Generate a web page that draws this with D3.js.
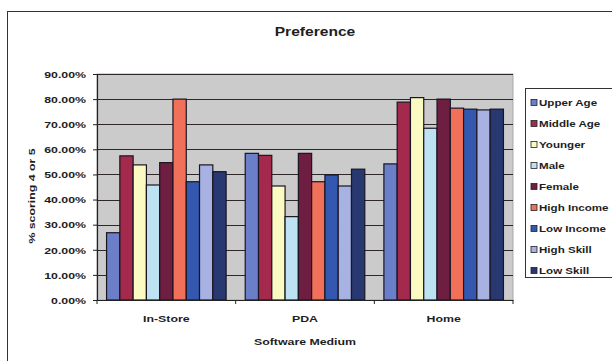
<!DOCTYPE html>
<html>
<head>
<meta charset="utf-8">
<script src="https://cdn.jsdelivr.net/npm/d3@7"></script>
<style>
  html, body { margin: 0; padding: 0; background: #fff; }
  svg { display: block; font-family: "Liberation Sans", Arial, sans-serif; }
</style>
</head>
<body>
<svg id="chart" width="612" height="361"></svg>
<script>
// Software medium categories and respondent groups
const categories = ["In-Store", "PDA", "Home"];
const seriesNames = ["Upper Age", "Middle Age", "Younger", "Male", "Female",
                     "High Income", "Low Income", "High Skill", "Low Skill"];
const seriesColors = ["#6b7fc8", "#a32a4c", "#fafac2", "#bde3f2", "#6e1e40",
                      "#f0705a", "#3458b0", "#a8b2e2", "#283870"];

// % scoring 4 or 5, one array per group: [In-Store, PDA, Home]
const upperAge   = [26.8, 58.4, 54.2];
const middleAge  = [57.4, 57.6, 78.8];
const younger    = [53.8, 45.4, 80.6];
const male       = [45.8, 33.2, 68.4];
const female     = [54.7, 58.4, 80.0];
const highIncome = [80.0, 47.1, 76.4];
const lowIncome  = [47.1, 49.8, 76.0];
const highSkill  = [53.8, 45.4, 75.7];
const lowSkill   = [51.1, 52.1, 76.0];
const seriesValues = [upperAge, middleAge, younger, male, female,
                      highIncome, lowIncome, highSkill, lowSkill];

const yTicks = [0, 10, 20, 30, 40, 50, 60, 70, 80, 90];

// labels are drawn in a wide face: stretch text horizontally
const WIDE = 1.3;
function widen(sel, x, y, extra, k) {
  sel.attr("x", 0).attr("y", 0)
     .attr("transform", `translate(${x},${y}) ${extra || ""} scale(${k || WIDE},1)`);
}

const svg = d3.select("#chart");

// outer chart frame
svg.append("rect")
  .attr("x", 7.5).attr("y", 11.5).attr("width", 640).attr("height", 400)
  .attr("fill", "#fff").attr("stroke", "#333").attr("stroke-width", 1);

const plot = { left: 97, right: 513, top: 74, bottom: 300 };

const x0 = d3.scaleBand().domain(categories).range([plot.left, plot.right])
  .paddingInner(0).paddingOuter(0);
const x1 = d3.scaleBand().domain(seriesNames).range([0, x0.bandwidth()])
  .paddingInner(0).paddingOuter(0.72);
const y = d3.scaleLinear().domain([0, 90]).range([plot.bottom, plot.top]);

// plot area background
svg.append("rect")
  .attr("x", plot.left).attr("y", plot.top)
  .attr("width", plot.right - plot.left).attr("height", plot.bottom - plot.top)
  .attr("fill", "#cbcbcb").attr("stroke", "#9a9a9a").attr("stroke-width", 0.8);

// horizontal gridlines
svg.append("g")
  .selectAll("line")
  .data(yTicks.filter(d => d > 0))
  .join("line")
  .attr("x1", plot.left).attr("x2", plot.right)
  .attr("y1", d => Math.round(y(d)) + 0.5).attr("y2", d => Math.round(y(d)) + 0.5)
  .attr("stroke", "#2e2628").attr("stroke-width", 1);

// bars
const groups = svg.append("g")
  .selectAll("g")
  .data(categories)
  .join("g")
  .attr("transform", d => `translate(${x0(d)},0)`);

groups.selectAll("rect")
  .data((c, ci) => seriesNames.map((s, si) => ({ s, si, v: seriesValues[si][ci] })))
  .join("rect")
  .attr("x", d => x1(d.s))
  .attr("y", d => y(d.v))
  .attr("width", x1.bandwidth())
  .attr("height", d => y(0) - y(d.v))
  .attr("fill", d => seriesColors[d.si])
  .attr("stroke", "#1a1520").attr("stroke-width", 1.2);

// y axis
const yAxis = svg.append("g")
  .attr("transform", `translate(${plot.left},0)`)
  .call(d3.axisLeft(y).tickValues(yTicks).tickSize(4)
    .tickFormat(d => d.toFixed(2) + "%"));
yAxis.select(".domain").attr("stroke", "#222").attr("stroke-width", 1.2);
yAxis.selectAll(".tick line").attr("stroke", "#222");
yAxis.selectAll("text")
  .attr("font-size", 9.5).attr("font-weight", "bold").attr("fill", "#1e1e1e")
  .attr("dy", "0.34em")
  .each(function () { widen(d3.select(this), -11, 0); });

// x axis
const xAxis = svg.append("g")
  .attr("transform", `translate(0,${plot.bottom})`)
  .call(d3.axisBottom(x0).tickSize(0));
xAxis.select(".domain").attr("stroke", "#222").attr("stroke-width", 1.2);
xAxis.selectAll("text")
  .attr("font-size", 9.5).attr("font-weight", "bold").attr("fill", "#1e1e1e")
  .attr("dy", 0)
  .each(function () { widen(d3.select(this), 0, 22); });
// category separator ticks
svg.append("g")
  .selectAll("line")
  .data(categories.concat(["end"]))
  .join("line")
  .attr("x1", (d, i) => i < categories.length ? x0(d) : plot.right)
  .attr("x2", (d, i) => i < categories.length ? x0(d) : plot.right)
  .attr("y1", plot.bottom).attr("y2", plot.bottom + 4)
  .attr("stroke", "#222");

// titles
widen(svg.append("text")
  .attr("text-anchor", "middle")
  .attr("font-size", 12).attr("font-weight", "bold").attr("fill", "#1e1e1e")
  .text("Preference"), 315, 36);

widen(svg.append("text")
  .attr("text-anchor", "middle")
  .attr("font-size", 9.5).attr("font-weight", "bold").attr("fill", "#1e1e1e")
  .text("Software Medium"), 305, 345);

widen(svg.append("text")
  .attr("text-anchor", "middle")
  .attr("font-size", 9.5).attr("font-weight", "bold").attr("fill", "#1e1e1e")
  .text("% scoring 4 or 5"), 35, 196, "rotate(-90)");

// legend
const legend = svg.append("g");
legend.append("rect")
  .attr("x", 525.5).attr("y", 88.5).attr("width", 100).attr("height", 189)
  .attr("fill", "#fff").attr("stroke", "#333").attr("stroke-width", 1);

const li = legend.selectAll("g.item")
  .data(seriesNames)
  .join("g")
  .attr("class", "item")
  .attr("transform", (d, i) => `translate(531,${102.5 + i * 21})`);

li.append("rect")
  .attr("x", 0).attr("y", -3).attr("width", 6).attr("height", 6)
  .attr("fill", (d, i) => seriesColors[i])
  .attr("stroke", "#222").attr("stroke-width", 0.8);

li.append("text")
  .attr("dy", "0.35em")
  .attr("font-size", 9.5).attr("font-weight", "bold").attr("fill", "#1e1e1e")
  .text(d => d)
  .each(function () { widen(d3.select(this), 8, 0, "", 1.22); });
</script>
</body>
</html>
